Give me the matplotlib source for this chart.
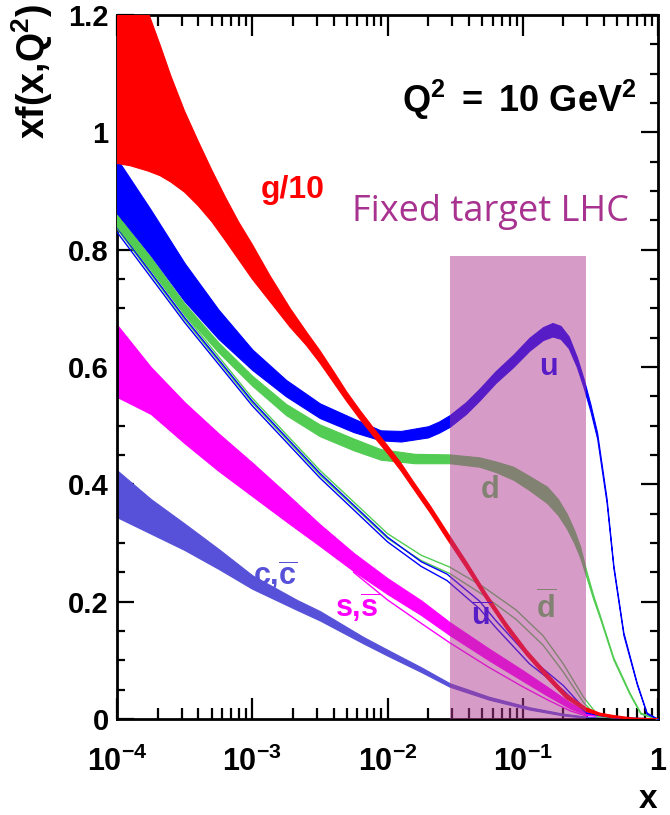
import numpy as np
import matplotlib.pyplot as plt
from matplotlib.ticker import MultipleLocator, LogLocator, NullFormatter, FixedLocator, FixedFormatter, FuncFormatter

plt.rcParams['font.family'] = ['Liberation Sans', 'DejaVu Sans']
plt.rcParams['mathtext.fontset'] = 'custom'
plt.rcParams['mathtext.rm'] = 'Liberation Sans'
plt.rcParams['mathtext.bf'] = 'Liberation Sans:bold'
plt.rcParams['mathtext.it'] = 'Liberation Sans:italic'

# ---------------------------------------------------------------------------
# data (log10 x, lower edge, upper edge)
# ---------------------------------------------------------------------------

# g/10
g_logx = [-4.0, -3.9, -3.77, -3.68, -3.6, -3.5, -3.4, -3.3, -3.2, -3.1, -3.0, -2.87, -2.72, -2.6, -2.5,
          -2.4, -2.3, -2.2, -2.1, -2.0, -1.9, -1.81, -1.68, -1.56, -1.41, -1.27, -1.12, -0.97, -0.82,
          -0.68, -0.53, -0.43, -0.33, -0.2, -0.1, 0.0]
g_lo = [0.947, 0.943, 0.934, 0.926, 0.915, 0.898, 0.875, 0.848, 0.816, 0.783, 0.750, 0.712, 0.668, 0.637,
        0.607, 0.574, 0.541, 0.510, 0.481, 0.453, 0.423, 0.393, 0.350, 0.307, 0.255, 0.204, 0.153, 0.108,
        0.069, 0.035, 0.013, 0.006, 0.002, 0.0005, 0.0, 0.0]
g_hi = [1.42, 1.33, 1.205, 1.148, 1.095, 1.036, 0.985, 0.936, 0.890, 0.847, 0.809, 0.756, 0.700, 0.660,
        0.628, 0.593, 0.557, 0.525, 0.495, 0.466, 0.436, 0.405, 0.362, 0.319, 0.266, 0.214, 0.163, 0.117,
        0.078, 0.043, 0.019, 0.010, 0.006, 0.002, 0.001, 0.0]

# u
u_logx = [-4.0, -3.75, -3.5, -3.25, -3.0, -2.75, -2.5, -2.25, -2.05, -1.9, -1.7, -1.62, -1.54, -1.42,
          -1.32, -1.2, -1.07, -0.95, -0.85, -0.78, -0.72, -0.66, -0.6, -0.55, -0.5, -0.45, -0.38, -0.33,
          -0.256, -0.157, -0.084, 0.0]
u_lo = [0.862, 0.790, 0.712, 0.648, 0.595, 0.550, 0.513, 0.489, 0.475, 0.473, 0.480, 0.488, 0.498, 0.520,
        0.543, 0.573, 0.600, 0.628, 0.646, 0.652, 0.648, 0.632, 0.600, 0.565, 0.525, 0.478, 0.368, 0.257,
        0.143, 0.059, 0.009, 0.0]
u_hi = [0.955, 0.868, 0.777, 0.698, 0.630, 0.578, 0.538, 0.512, 0.492, 0.491, 0.499, 0.507, 0.518, 0.540,
        0.563, 0.593, 0.621, 0.650, 0.668, 0.675, 0.670, 0.652, 0.617, 0.580, 0.537, 0.488, 0.376, 0.263,
        0.148, 0.062, 0.011, 0.0]

# d
d_logx = [-4.0, -3.75, -3.5, -3.25, -3.0, -2.75, -2.5, -2.25, -2.05, -1.8, -1.54, -1.32, -1.2, -1.07,
          -0.95, -0.82, -0.74, -0.675, -0.62, -0.577, -0.527, -0.48, -0.43, -0.33, -0.21, -0.13, 0.0]
d_lo = [0.839, 0.765, 0.690, 0.625, 0.568, 0.518, 0.482, 0.458, 0.442, 0.436, 0.436, 0.430, 0.421, 0.408,
        0.390, 0.368, 0.348, 0.325, 0.300, 0.276, 0.240, 0.205, 0.172, 0.101, 0.042, 0.009, 0.0]
d_hi = [0.860, 0.787, 0.708, 0.642, 0.585, 0.537, 0.502, 0.478, 0.460, 0.452, 0.451, 0.446, 0.439, 0.430,
        0.414, 0.396, 0.375, 0.350, 0.322, 0.295, 0.250, 0.212, 0.177, 0.105, 0.045, 0.011, 0.0]

# u bar
ub_logx = [-4.0, -3.5, -3.0, -2.5, -2.0, -1.75, -1.56, -1.32, -1.2, -0.95, -0.7, -0.53, -0.3, 0.0]
ub_lo = [0.830, 0.676, 0.534, 0.411, 0.302, 0.260, 0.236, 0.188, 0.156, 0.094, 0.049, 0.010, 0.001, 0.0]
ub_hi = [0.838, 0.684, 0.542, 0.419, 0.310, 0.268, 0.247, 0.201, 0.168, 0.105, 0.057, 0.014, 0.002, 0.0]

# d bar
db_logx = [-4.0, -3.5, -3.0, -2.5, -2.0, -1.75, -1.54, -1.29, -1.05, -0.85, -0.7, -0.55, -0.45, -0.2, 0.0]
db_lo = [0.836, 0.681, 0.539, 0.416, 0.308, 0.270, 0.248, 0.211, 0.170, 0.126, 0.080, 0.028, 0.004, 0.0, 0.0]
db_hi = [0.844, 0.689, 0.547, 0.424, 0.316, 0.279, 0.259, 0.225, 0.186, 0.142, 0.094, 0.037, 0.008, 0.001, 0.0]

# s, s bar
s_logx = [-4.0, -3.75, -3.5, -3.25, -3.0, -2.75, -2.5, -2.25, -2.0, -1.75, -1.54, -1.25, -1.0, -0.82,
          -0.65, -0.527, -0.3, 0.0]
s_lo = [0.549, 0.520, 0.470, 0.423, 0.380, 0.337, 0.295, 0.252, 0.213, 0.177, 0.143, 0.100, 0.065, 0.040,
        0.018, 0.007, 0.001, 0.0]
s_hi = [0.672, 0.600, 0.540, 0.487, 0.437, 0.385, 0.332, 0.283, 0.240, 0.202, 0.165, 0.120, 0.083, 0.055,
        0.028, 0.013, 0.003, 0.0]
s2_logx = [-2.25, -2.0, -1.75, -1.54, -1.25, -1.0, -0.82, -0.65, -0.527]
s2_y = [0.250, 0.203, 0.163, 0.130, 0.088, 0.055, 0.033, 0.014, 0.005]

# c, c bar
c_logx = [-4.0, -3.75, -3.5, -3.25, -3.0, -2.67, -2.5, -2.18, -2.0, -1.75, -1.54, -1.25, -0.95, -0.7,
          -0.527, -0.3, 0.0]
c_lo = [0.344, 0.316, 0.288, 0.256, 0.222, 0.186, 0.168, 0.129, 0.108, 0.080, 0.055, 0.033, 0.016, 0.006,
        0.002, 0.0, 0.0]
c_hi = [0.424, 0.375, 0.333, 0.290, 0.245, 0.203, 0.184, 0.140, 0.118, 0.088, 0.061, 0.038, 0.020, 0.009,
        0.004, 0.001, 0.0]

# fixed target LHC region
lhc_x = [0.029, 0.295]
lhc_top = 0.79

x_ticks = [1e-4, 1e-3, 1e-2, 1e-1, 1.0]
x_ticklabels = [r'$\mathbf{10^{-4}}$', r'$\mathbf{10^{-3}}$', r'$\mathbf{10^{-2}}$',
                r'$\mathbf{10^{-1}}$', r'$\mathbf{1}$']

# ---------------------------------------------------------------------------
RED = '#ff0000'
BLUE = '#0000ff'
GREEN = '#52cc52'
MAGENTA = '#ff00ff'
PURPLE = '#5651d8'


def band(ax, logx, lo, hi, color, z):
    x = 10 ** np.array(logx)
    ax.fill_between(x, lo, hi, facecolor=color, edgecolor=color, linewidth=0.8, zorder=z)


fig = plt.figure(figsize=(6.7, 8.15), dpi=100)
ax = fig.add_axes([117 / 670, 96 / 815, 541 / 670, 704 / 815])

band(ax, c_logx, c_lo, c_hi, PURPLE, 2)
band(ax, s_logx, s_lo, s_hi, MAGENTA, 2)
ax.plot(10 ** np.array(s2_logx), s2_y, color=MAGENTA, lw=1.0, zorder=2)
for lo, hi, logx, col in [(db_lo, db_hi, db_logx, GREEN), (ub_lo, ub_hi, ub_logx, BLUE)]:
    xx = 10 ** np.array(logx)
    ax.plot(xx, lo, color=col, lw=1.0, zorder=3)
    ax.plot(xx, hi, color=col, lw=1.0, zorder=3)
band(ax, d_logx, d_lo, d_hi, GREEN, 3)
band(ax, u_logx, u_lo, u_hi, BLUE, 3)
band(ax, g_logx, g_lo, g_hi, RED, 4)

# curve labels inside the LHC region (tinted by the overlay)
lab = dict(fontsize=22, ha='center', va='center', zorder=4)
ax.text(0.155, 0.60, r'$\mathbf{u}$', color=BLUE, **lab)
ax.text(0.057, 0.39, r'$\mathbf{d}$', color=GREEN, **lab)
ax.text(0.049, 0.172, r'$\mathbf{\overline{u}}$', color=BLUE, **lab)
ax.text(0.149, 0.19, r'$\mathbf{\overline{d}}$', color=GREEN, **lab)

ax.axvspan(lhc_x[0], lhc_x[1], ymin=0, ymax=lhc_top / 1.2, facecolor='#b13991', alpha=0.5,
           linewidth=0, zorder=5)

ax.text(0.0020, 0.902, 'g/10', color=RED, fontsize=23, fontweight='bold', ha='center', va='center', zorder=6)
ax.text(0.00147, 0.245, r'$\mathbf{c{,}\overline{c}}$', color=PURPLE, fontsize=22, ha='center', va='center', zorder=6)
ax.text(0.0060, 0.19, r'$\mathbf{s{,}\overline{s}}$', color=MAGENTA, fontsize=22, ha='center', va='center', zorder=6)

ax.set_xscale('log')
ax.set_xlim(1e-4, 1)
ax.set_ylim(0, 1.2)

ax.xaxis.set_major_locator(FixedLocator(x_ticks))
ax.xaxis.set_major_formatter(FixedFormatter(x_ticklabels))
ax.xaxis.set_minor_locator(LogLocator(base=10, subs=np.arange(2, 10), numticks=20))
ax.xaxis.set_minor_formatter(NullFormatter())
ax.yaxis.set_major_locator(MultipleLocator(0.2))
ax.yaxis.set_minor_locator(MultipleLocator(0.05))
ax.yaxis.set_major_formatter(FuncFormatter(lambda v, p: '%g' % round(v, 2)))

ax.tick_params(which='both', direction='in', top=True, right=True, width=1.6, colors='black')
ax.tick_params(axis='x', which='major', length=15, pad=20, labelsize=22)
ax.tick_params(axis='x', which='minor', length=8)
ax.tick_params(axis='y', which='major', length=12, pad=6, labelsize=21)
ax.tick_params(axis='y', which='minor', length=6)
for t in ax.get_yticklabels():
    t.set_fontweight('bold')
for sp in ax.spines.values():
    sp.set_linewidth(2)

fig.text(637 / 670, 1 - 100 / 815, r'$\mathbf{Q^2\ =\ 10\ GeV^2}$', fontsize=26, ha='right', va='center')
fig.text(490 / 670, 1 - 212 / 815, 'Fixed target LHC', family=['Open Sans', 'DejaVu Sans'],
         fontsize=26, color='#a8328f', ha='center', va='center')
fig.text(32 / 670, 1 - 4 / 815, r'$\mathbf{xf(x{,}Q^2)}$', fontsize=27, rotation=90, ha='center', va='top')
fig.text(648 / 670, 1 - 800 / 815, r'$\mathbf{x}$', fontsize=24, ha='center', va='center')

fig.savefig('out.png', dpi=100)
